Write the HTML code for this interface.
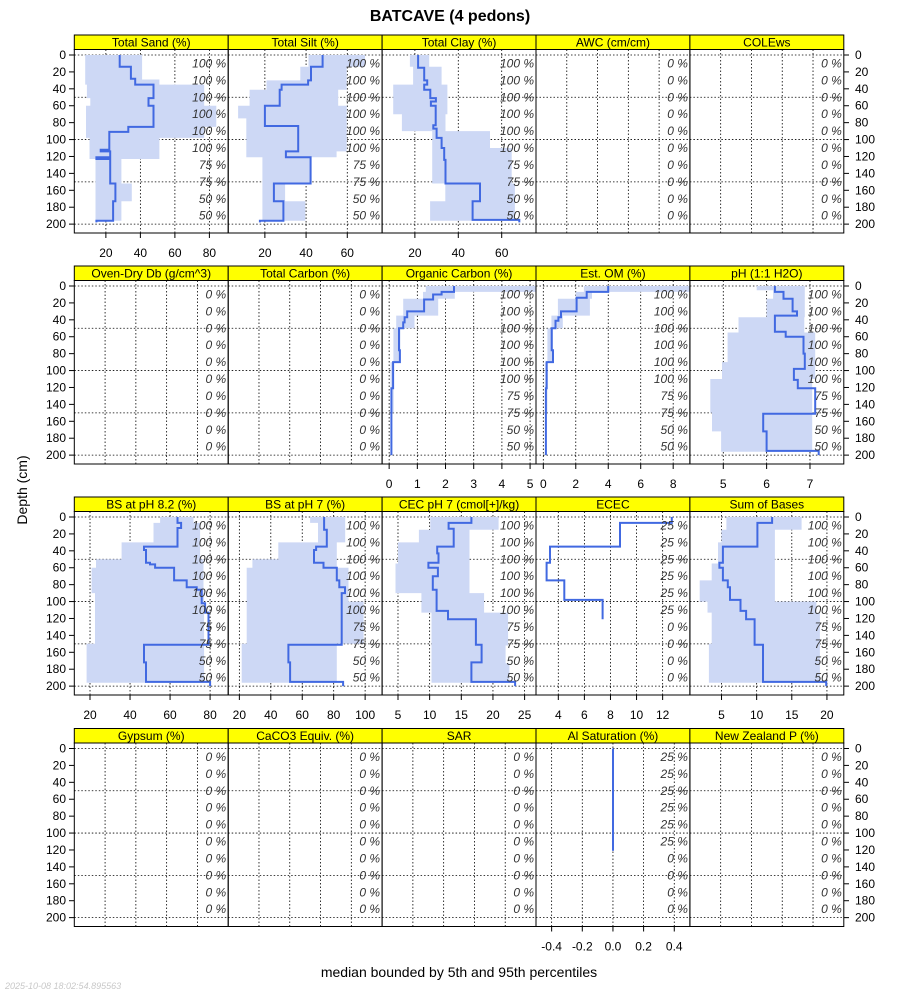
<!DOCTYPE html>
<html><head><meta charset="utf-8">
<style>
html,body{margin:0;padding:0;background:#fff;}
svg{display:block;font-family:"Liberation Sans",sans-serif;}
</style></head>
<body>
<svg id="chart" width="900" height="1000" viewBox="0 0 900 1000" xmlns="http://www.w3.org/2000/svg">
<text x="450" y="21" text-anchor="middle" font-size="16" font-weight="bold">BATCAVE (4 pedons)</text>
<text x="27" y="490" text-anchor="middle" font-size="14" transform="rotate(-90 27 490)">Depth (cm)</text>
<text x="459" y="977" text-anchor="middle" font-size="14">median bounded by 5th and 95th percentiles</text>
<text x="5" y="989" font-size="9" font-style="italic" fill="#c8c8c8">2025-10-08 18:02:54.895563</text>
<g id="panels"></g>
</svg>
<script>
// ---------- data arrays (depth in cm) ----------
const pctFull = ["100 %","100 %","100 %","100 %","100 %","100 %","75 %","75 %","50 %","50 %"];
const pctZero = ["0 %","0 %","0 %","0 %","0 %","0 %","0 %","0 %","0 %","0 %"];
const pctQuarter = ["25 %","25 %","25 %","25 %","25 %","25 %","0 %","0 %","0 %","0 %"];
const depthTicks = [0,20,40,60,80,100,120,140,160,180,200];

const sandTops = [0,14,28,35,51,60,85,91,112,114,121,123,152,173,196,198];
const sandMed = [28,34.5,37,47.6,44.7,47.6,33,22,17,22.5,14.5,22.5,25.5,24.2,14.5];
const sandBandTops = [0,29,35,51,60,85,98,123,152,173,196];
const sandHi = [41,51,77,77,84,77,51,29,35,29];
const sandLo = [8,8,9,11,8.5,8.5,10.5,14,14,14];

const siltTops = [0,14,30,35,41,60,84,114,121,152,173,196,198];
const siltMed = [48,42.4,41,28.1,27.2,20,36.2,30.2,42.2,24.4,29,17.6];
const siltBandTops = [0,14,30,41,60,75,114,121,152,173,196];
const siltHi = [68.6,59.7,59.7,55.6,59.7,59.7,54.8,42,29.8,39.6];
const siltLo = [41.2,37.2,20.8,12.6,7,11,11,18.8,18.8,18.8];

const clayTops = [0,15,30,35,41,51,55,60,83,87,98,110,124,152,173,195,198];
const clayMed = [21.5,24.3,25.7,24.3,27.1,29.7,27.4,29.6,28.5,30,32.3,33.5,34.1,50,46.6,68.1];
const clayBandTops = [0,14,35,70,90,110,152,173,196];
const clayHi = [26.6,32.3,35,34.1,54.6,64.6,66.1,66.1];
const clayLo = [17.7,19.2,10,14,28,28,34,27];

const ocTops = [0,7,10,16,30,37,43,50,76,90,121,200];
const ocMed = [2.3,1.86,1.56,1.24,0.64,0.55,0.5,0.35,0.38,0.14,0.08];
const ocBandTops = [0,7,15,35,50,90,150];
const ocHi = [5.4,2.33,1.74,0.9,0.4,0.16];
const ocLo = [1.3,1.2,0.5,0.25,0.15,0.05];

const omTops = [0,7,14,30,37,41,50,76,90,121,200];
const omMed = [4.0,2.67,2.05,1.09,0.93,0.75,0.52,0.6,0.21,0.16];
const omBandTops = [0,7,15,35,50,90,150];
const omHi = [9.2,3.0,2.87,1.2,0.6,0.25];
const omLo = [2.5,2.0,0.9,0.5,0.25,0.1];

const phTops = [0,7,15,30,35,54,60,80,98,111,121,151,172,195,200];
const phMed = [6.19,6.39,6.6,6.7,6.19,6.44,6.85,6.88,6.63,6.72,7.12,5.92,6.0,7.2];
const phBandTops = [0,5,15,37,55,90,110,150,172,196];
const phHi = [6.88,6.88,6.88,6.87,7.12,7.12,7.05,7.05,7.05];
const phLo = [5.77,6.15,6.0,5.35,5.1,4.97,4.7,4.74,4.95];

const bs82Tops = [0,7,13,35,39,54,56,60,75,83,86,102,113,151,172,195,200];
const bs82Med = [63.7,65.5,63.7,47,48,50,52.5,62,68.3,73.3,75.8,77.5,79.2,47,48,80];
const bs82BandTops = [0,7,30,50,60,90,150,196];
const bs82Hi = [71.7,75,75,76.7,76.7,77,77];
const bs82Lo = [55,51.7,35.8,23,20.8,22.5,18.3];

const bs7Tops = [0,15,35,39,54,60,75,83,90,151,172,195,200];
const bs7Med = [73.9,75.6,68.8,67.5,73.5,82,83.6,87.2,85.1,51.2,52.3,86];
const bs7BandTops = [0,7,30,50,60,100,150,196];
const bs7Hi = [87.3,87.3,82,82,89.4,99,82];
const bs7Lo = [65,70,44.8,28.3,24.7,24.7,21.5];

const cecTops = [0,7,14,35,43,54,60,70,86,111,121,151,172,195,200];
const cecMed = [16.6,13,13.8,11.2,11.4,9.8,11.3,10.5,11.1,12.9,17.3,18.2,16.6,23.5];
const cecBandTops = [0,15,30,55,90,113,152,173,196];
const cecHi = [20.9,16.3,16.3,16.3,18.6,22.4,22,22.6];
const cecLo = [10.1,8.3,5,4.6,8.7,10.3,10.3,10.3];

const ececTops = [0,7,35,54,75,98,121];
const ececMed = [12.7,8.73,3.36,3.1,4.46,7.4];

const sobTops = [0,7,35,54,60,75,83,98,111,121,151,195,200];
const sobMed = [12.2,10.1,5.2,4.7,5.2,5.9,6.2,7.7,8.5,9.7,10.9,19.9];
const sobBandTops = [0,15,30,55,75,100,113,150,196];
const sobHi = [16.4,12.6,12.6,12.6,12.6,18.5,19,19];
const sobLo = [5.7,5,4.5,3.6,1.9,3,3.6,3.2];

const alTops = [0,121];
const alMed = [0];

// ---------- panel configuration ----------
const colLeft = [74.3,228.2,382.1,536,689.9];
const colW = 153.9;
const rowTop = [49.5,280.5,511.5,743];
const plotH = 183.5, stripH = 14.5;
const yMin = -6.5, yMax = 210.5;

const panels = [
 {r:0,c:0,title:"Total Sand (%)",name:"total-sand",dom:[1.7,90.9],ticks:[20,40,60,80],tops:sandTops,med:sandMed,bt:sandBandTops,hi:sandHi,lo:sandLo,pct:pctFull},
 {r:0,c:1,title:"Total Silt (%)",name:"total-silt",dom:[2.2,76.9],ticks:[20,40,60],tops:siltTops,med:siltMed,bt:siltBandTops,hi:siltHi,lo:siltLo,pct:pctFull},
 {r:0,c:2,title:"Total Clay (%)",name:"total-clay",dom:[4.9,75.8],ticks:[20,40,60],tops:clayTops,med:clayMed,bt:clayBandTops,hi:clayHi,lo:clayLo,pct:pctFull},
 {r:0,c:3,title:"AWC (cm/cm)",name:"awc",pct:pctZero},
 {r:0,c:4,title:"COLEws",name:"colews",pct:pctZero},
 {r:1,c:0,title:"Oven-Dry Db (g/cm^3)",name:"oven-dry-db",pct:pctZero},
 {r:1,c:1,title:"Total Carbon (%)",name:"total-carbon",pct:pctZero},
 {r:1,c:2,title:"Organic Carbon (%)",name:"organic-carbon",dom:[-0.25,5.21],ticks:[0,1,2,3,4,5],tops:ocTops,med:ocMed,bt:ocBandTops,hi:ocHi,lo:ocLo,pct:pctFull},
 {r:1,c:3,title:"Est. OM (%)",name:"est-om",dom:[-0.45,9.03],ticks:[0,2,4,6,8],tops:omTops,med:omMed,bt:omBandTops,hi:omHi,lo:omLo,pct:pctFull},
 {r:1,c:4,title:"pH (1:1 H2O)",name:"ph",dom:[4.23,7.78],ticks:[5,6,7],tops:phTops,med:phMed,bt:phBandTops,hi:phHi,lo:phLo,pct:pctFull},
 {r:2,c:0,title:"BS at pH 8.2 (%)",name:"bs-ph82",dom:[12.15,89.05],ticks:[20,40,60,80],tops:bs82Tops,med:bs82Med,bt:bs82BandTops,hi:bs82Hi,lo:bs82Lo,pct:pctFull},
 {r:2,c:1,title:"BS at pH 7 (%)",name:"bs-ph7",dom:[12.9,110.8],ticks:[20,40,60,80,100],tops:bs7Tops,med:bs7Med,bt:bs7BandTops,hi:bs7Hi,lo:bs7Lo,pct:pctFull},
 {r:2,c:2,title:"CEC pH 7 (cmol[+]/kg)",name:"cec-ph7",dom:[2.49,26.8],ticks:[5,10,15,20,25],tops:cecTops,med:cecMed,bt:cecBandTops,hi:cecHi,lo:cecLo,pct:pctFull},
 {r:2,c:3,title:"ECEC",name:"ecec",dom:[2.29,14.09],ticks:[4,6,8,10,12],tops:ececTops,med:ececMed,pct:pctQuarter},
 {r:2,c:4,title:"Sum of Bases",name:"sum-of-bases",dom:[0.5,22.4],ticks:[5,10,15,20],tops:sobTops,med:sobMed,bt:sobBandTops,hi:sobHi,lo:sobLo,pct:pctFull},
 {r:3,c:0,title:"Gypsum (%)",name:"gypsum",pct:pctZero},
 {r:3,c:1,title:"CaCO3 Equiv. (%)",name:"caco3",pct:pctZero},
 {r:3,c:2,title:"SAR",name:"sar",pct:pctZero},
 {r:3,c:3,title:"Al Saturation (%)",name:"al-saturation",dom:[-0.502,0.502],ticks:[-0.4,-0.2,0,0.2,0.4],tickLabels:["-0.4","-0.2","0.0","0.2","0.4"],tops:alTops,med:alMed,pct:pctQuarter},
 {r:3,c:4,title:"New Zealand P (%)",name:"new-zealand-p",pct:pctZero}
];

const NS = "http://www.w3.org/2000/svg";
const root = document.getElementById("panels");
function mk(tag, attrs, parent){
  const e = document.createElementNS(NS, tag);
  for (const k in attrs) e.setAttribute(k, attrs[k]);
  (parent||root).appendChild(e);
  return e;
}

// y axes per row
rowTop.forEach((top, r) => {
  const yS = d => top + (d - yMin) / (yMax - yMin) * plotH;
  depthTicks.forEach(d => {
    const y = yS(d);
    const tl = mk("line",{x1:69,x2:74.3,y1:y,y2:y,stroke:"#000"});
    
    
    const tr = mk("line",{x1:843.8,x2:849,y1:y,y2:y,stroke:"#000"});
    
    
    const lt = mk("text",{x:66,y:y+4,"text-anchor":"end","font-size":12});
    lt.textContent = d;
    
    
    const rt = mk("text",{x:855,y:y+4,"font-size":12});
    rt.textContent = d;
    
    
  });
});

panels.forEach((p, i) => {
  const L = colLeft[p.c], T = rowTop[p.r], R = L + colW, B = T + plotH;
  const g = mk("g",{});
  
  
  const yS = d => T + (d - yMin) / (yMax - yMin) * plotH;
  const xS = p.dom ? (v => L + (v - p.dom[0]) / (p.dom[1] - p.dom[0]) * colW) : null;

  // strip
  const st = mk("rect",{x:L,y:T-stripH,width:colW,height:stripH,fill:"#ffff00",stroke:"#000","stroke-width":1},g);
  
  
  const stt = mk("text",{x:L+colW/2,y:T-3,"text-anchor":"middle","font-size":12},g);
  stt.textContent = p.title;
  
  

  const cp = mk("clipPath",{id:"clip"+i},g);
  mk("rect",{x:L,y:T,width:colW,height:plotH},cp);

  // grid
  const gx = p.dom ? p.ticks.map(xS) : [1,2,3,4].map(k => L + k*colW/5);
  gx.forEach(x => {
    const gl = mk("line",{x1:x,x2:x,y1:T,y2:B,stroke:"#000","stroke-dasharray":"1.5,2","stroke-width":0.8},g);
    
    
  });
  [0,50,100,150,200].forEach(d => {
    const gl = mk("line",{x1:L,x2:R,y1:yS(d),y2:yS(d),stroke:"#000","stroke-dasharray":"1.5,2","stroke-width":0.8},g);
    
    
  });

  // band
  if (p.bt) {
    const pts = [];
    for (let k = 0; k < p.hi.length; k++) {
      pts.push([xS(p.hi[k]), yS(p.bt[k])]);
      pts.push([xS(p.hi[k]), yS(p.bt[k+1])]);
    }
    for (let k = p.lo.length - 1; k >= 0; k--) {
      pts.push([xS(p.lo[k]), yS(p.bt[k+1])]);
      pts.push([xS(p.lo[k]), yS(p.bt[k])]);
    }
    const band = mk("polygon",{points:pts.map(q=>q[0].toFixed(1)+","+q[1].toFixed(1)).join(" "),fill:"#cdd8f5",stroke:"none","clip-path":"url(#clip"+i+")"},g);
    
    
  }
  // median
  if (p.med) {
    let d = "M" + xS(p.med[0]).toFixed(1) + " " + yS(p.tops[0]).toFixed(1);
    for (let k = 0; k < p.med.length; k++) {
      if (k > 0) d += " H" + xS(p.med[k]).toFixed(1);
      d += " V" + yS(p.tops[k+1]).toFixed(1);
    }
    const ln = mk("path",{d:d,fill:"none",stroke:"#4169e1","stroke-width":2,"clip-path":"url(#clip"+i+")"},g);
    
    
  }
  // percent labels
  p.pct.forEach((s, k) => {
    const t = mk("text",{x:R-2,y:yS(10+20*k)+4,"text-anchor":"end","font-size":12,"font-style":"italic",fill:"#333"},g);
    t.textContent = s;
    
    
  });
  // border
  const bd = mk("rect",{x:L,y:T,width:colW,height:plotH,fill:"none",stroke:"#000","stroke-width":1},g);
  
  
  // x axis
  if (p.dom) {
    p.ticks.forEach((v, k) => {
      const x = xS(v);
      const tk = mk("line",{x1:x,x2:x,y1:B,y2:B+5,stroke:"#000"},g);
      
      
      const tl = mk("text",{x:x,y:B+24,"text-anchor":"middle","font-size":12},g);
      tl.textContent = p.tickLabels ? p.tickLabels[k] : v;
      
      
    });
  }
});
</script>
</body></html>
